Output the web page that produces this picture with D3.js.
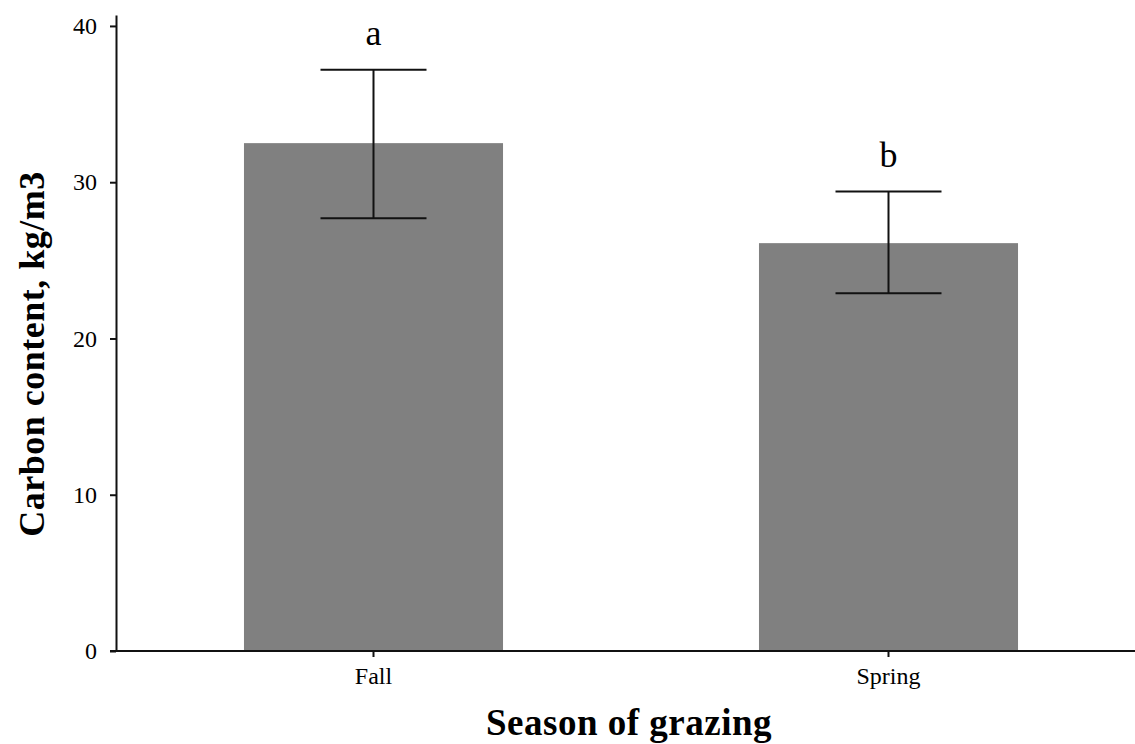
<!DOCTYPE html>
<html>
<head>
<meta charset="utf-8">
<script src="https://cdn.jsdelivr.net/npm/d3@7"></script>
<style>
  body { margin: 0; background: #fff; }
  text { font-family: "Liberation Serif", "Times New Roman", serif; }
</style>
</head>
<body>
<div id="chart"></div>
<script>
// data
const seasons = ["Fall", "Spring"]
const carbon = [32.5, 26.1]
const errLow = [27.7, 22.9]
const errHigh = [37.2, 29.4]
const letters = ["a", "b"]
const yTicks = [0, 10, 20, 30, 40]

const W = 1135, H = 744

const svg = d3.select("#chart")
  .append("svg")
    .attr("width", W)
    .attr("height", H)

// scales
const y = d3.scaleLinear()
  .domain([0, 40.7])
  .range([651, 15])

const x = d3.scaleBand()
  .domain(seasons)
  .range([116, 1146])
  .paddingInner(0.497)
  .paddingOuter(0.2485)

const data = seasons.map((s, i) => ({season: s, value: carbon[i], lo: errLow[i], hi: errHigh[i], letter: letters[i]}))

// bars
svg.selectAll("rect.bar")
  .data(data)
  .join("rect")
  .attr("class", "bar")
  .attr("x", d => x(d.season))
  .attr("y", d => y(d.value))
  .attr("width", x.bandwidth())
  .attr("height", d => y(0) - y(d.value))
  .attr("fill", "#808080")

// error bars
const cap = 53
const eb = svg.selectAll("g.err")
  .data(data)
  .join("g")
  .attr("class", "err")
  .attr("stroke", "#111")
  .attr("stroke-width", 2)

eb.append("line")
  .attr("x1", d => x(d.season) + x.bandwidth()/2)
  .attr("x2", d => x(d.season) + x.bandwidth()/2)
  .attr("y1", d => y(d.lo))
  .attr("y2", d => y(d.hi))
eb.append("line")
  .attr("x1", d => x(d.season) + x.bandwidth()/2 - cap)
  .attr("x2", d => x(d.season) + x.bandwidth()/2 + cap)
  .attr("y1", d => y(d.hi))
  .attr("y2", d => y(d.hi))
eb.append("line")
  .attr("x1", d => x(d.season) + x.bandwidth()/2 - cap)
  .attr("x2", d => x(d.season) + x.bandwidth()/2 + cap)
  .attr("y1", d => y(d.lo))
  .attr("y2", d => y(d.lo))

// significance letters
svg.selectAll("text.letter")
  .data(data)
  .join("text")
  .attr("class", "letter")
  .attr("x", d => x(d.season) + x.bandwidth()/2)
  .attr("y", d => y(d.hi) - 25)
  .attr("text-anchor", "middle")
  .style("font-size", "36px")
  .text(d => d.letter)

// y axis
const yAxis = svg.append("g")
  .attr("transform", "translate(116,0)")
  .call(d3.axisLeft(y).tickValues(yTicks).tickSize(6).tickSizeOuter(0).tickPadding(13))
yAxis.selectAll("text").style("font-size", "24px").attr("fill", "#000")
yAxis.selectAll("line, path").attr("stroke", "#111").attr("stroke-width", 2)

// x axis
const xAxis = svg.append("g")
  .attr("transform", "translate(0,651)")
  .call(d3.axisBottom(x).tickSize(6).tickSizeOuter(0).tickPadding(10))
xAxis.select(".domain").remove()
xAxis.selectAll("text").style("font-size", "24px").attr("fill", "#000")
xAxis.selectAll("line").attr("stroke", "#111").attr("stroke-width", 2)

svg.append("line")
  .attr("x1", 110)
  .attr("x2", W)
  .attr("y1", y(0))
  .attr("y2", y(0))
  .attr("stroke", "#111")
  .attr("stroke-width", 2)

// axis titles
svg.append("text")
  .attr("x", 629)
  .attr("y", 735)
  .attr("text-anchor", "middle")
  .style("font-size", "37px")
  .style("font-weight", "bold")
  .style("letter-spacing", "0.5px")
  .text("Season of grazing")

svg.append("text")
  .attr("transform", "translate(44,354) rotate(-90)")
  .attr("text-anchor", "middle")
  .style("font-size", "36px")
  .style("font-weight", "bold")
  .style("letter-spacing", "0.5px")
  .text("Carbon content, kg/m3")
</script>
</body>
</html>
